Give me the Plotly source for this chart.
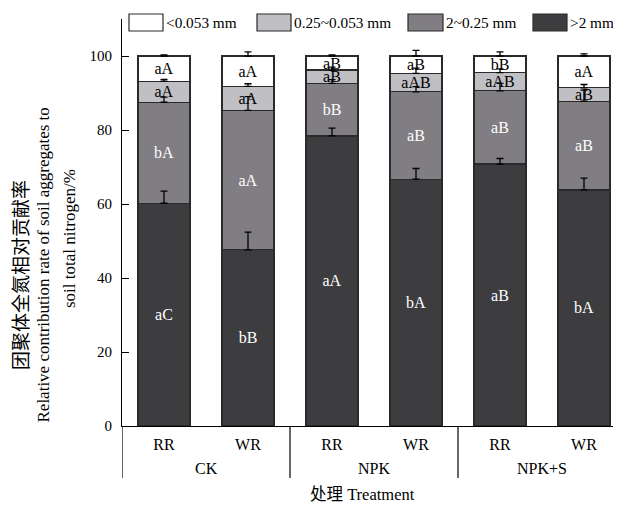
import plotly.graph_objects as go

# ---------------- data ----------------
groups = ["CK", "CK", "NPK", "NPK", "NPK+S", "NPK+S"]
rotations = ["RR", "WR", "RR", "WR", "RR", "WR"]
group_names = ["CK", "NPK", "NPK+S"]

size_names = ["<0.053 mm", "0.25~0.053 mm", "2~0.25 mm", ">2 mm"]

# stacked segments (bottom -> top)
gt2 = [60.2, 47.6, 78.4, 66.7, 70.8, 63.8]
mid = [27.3, 37.7, 14.2, 23.6, 19.8, 24.0]
small = [5.7, 6.5, 3.6, 5.0, 4.9, 3.6]
lt0053 = [6.8, 8.2, 3.8, 4.7, 4.5, 8.6]

err_gt2 = [3.3, 4.8, 2.1, 2.9, 1.5, 3.2]
err_mid = [1.4, 3.7, 1.0, 1.4, 2.0, 3.0]
err_small = [0.5, 0.7, 0.8, 1.4, 1.0, 0.9]
err_lt0053 = [0.3, 1.1, 0.3, 1.5, 1.1, 0.6]

lab_gt2 = ["aC", "bB", "aA", "bA", "aB", "bA"]
lab_mid = ["bA", "aA", "bB", "aB", "aB", "aB"]
lab_small = ["aA", "aA", "aB", "aAB", "aAB", "aB"]
lab_lt0053 = ["aA", "aA", "aB", "aB", "bB", "aA"]

y_ticks = [0, 20, 40, 60, 80, 100]

# ---------------- style ----------------
OFF = 8  # page body margin of the browser
W, H = 621 - OFF, 505 - OFF
# plot area in screenshot pixels
PX0, PX1, PY0, PY1 = 122, 621, 19, 426
L, R, T, B = PX0 - OFF, 621 - PX1, PY0 - OFF, 505 - PY1
FONT = "Liberation Serif, Times New Roman, Noto Sans CJK SC, serif"
colors = {">2 mm": "#3d3d3f", "2~0.25 mm": "#807e82",
          "0.25~0.053 mm": "#c0bfc3", "<0.053 mm": "#ffffff"}
text_colors = {">2 mm": "white", "2~0.25 mm": "white",
               "0.25~0.053 mm": "black", "<0.053 mm": "black"}

pw = PX1 - PX0
ph = PY1 - PY0


def px(xp):
    return (xp - PX0) / pw


def py(yp):
    return (PY1 - yp) / ph


xpos = list(range(len(rotations)))
fig = go.Figure()

series = [
    (">2 mm", gt2, err_gt2, lab_gt2),
    ("2~0.25 mm", mid, err_mid, lab_mid),
    ("0.25~0.053 mm", small, err_small, lab_small),
    ("<0.053 mm", lt0053, err_lt0053, lab_lt0053),
]
for name, vals, errs, labs in series:
    fig.add_trace(go.Bar(
        x=xpos, y=vals, name=name,
        customdata=groups,
        marker=dict(color=colors[name], line=dict(color="#2a2a2a", width=1.2)),
        width=0.62,
        text=labs, textposition="inside", insidetextanchor="middle",
        textangle=0, constraintext="none",
        textfont=dict(family=FONT, size=16, color=text_colors[name]),
        showlegend=False,
    ))

# error bars drawn above all segments, at each segment's stacked top
cum = [0.0] * len(rotations)
for name, vals, errs, labs in series:
    cum = [c + v for c, v in zip(cum, vals)]
    fig.add_trace(go.Scatter(
        x=xpos, y=list(cum), mode="markers",
        marker=dict(size=1, color="rgba(0,0,0,0)"),
        error_y=dict(type="data", array=errs, arrayminus=[0] * len(errs),
                     symmetric=False, color="black", thickness=1.3, width=3.5),
        showlegend=False, hoverinfo="skip",
    ))

fig.update_layout(
    width=W, height=H,
    margin=dict(l=L, r=R, t=T, b=B),
    barmode="stack",
    plot_bgcolor="white", paper_bgcolor="white",
    font=dict(family=FONT, size=15, color="black"),
    uniformtext=dict(minsize=16, mode="show"),
    xaxis=dict(
        range=[-0.5, -0.5 + pw / 84.0], automargin=False,
        tickvals=xpos, ticktext=rotations,
        showline=True, linecolor="black", linewidth=1.2,
        ticks="", showgrid=False, zeroline=False,
        tickfont=dict(family=FONT, size=16),
        ticklabelstandoff=4,
    ),
    yaxis=dict(
        range=[0, 110], automargin=False,
        tickvals=y_ticks,
        showline=True, linecolor="black", linewidth=1.2,
        ticks="inside", ticklen=7, tickcolor="black",
        showgrid=False, zeroline=False,
        tickfont=dict(family=FONT, size=15),
        ticklabelstandoff=6,
    ),
)

# group labels and dividers under the axis
for gi, g in enumerate(group_names):
    idx = [i for i, gg in enumerate(groups) if gg == g]
    fig.add_annotation(text=g, xref="x", yref="paper",
                       x=sum(idx) / len(idx), y=py(468),
                       xanchor="center", yanchor="middle", showarrow=False,
                       font=dict(family=FONT, size=16))
    fig.add_shape(type="line", xref="x", yref="paper",
                  x0=min(idx) - 0.5, x1=min(idx) - 0.5, y0=0, y1=py(478),
                  line=dict(color="black", width=1.2))

# x-axis title
fig.add_annotation(text="处理 Treatment", xref="paper", yref="paper",
                   x=px(362), y=py(494), xanchor="center", yanchor="middle",
                   showarrow=False, font=dict(family=FONT, size=16.5))

# y-axis title (three lines)
ytitle = [
    ("团聚体全氮相对贡献率", 21, 275, 19),
    ("Relative contribution rate of soil aggregates to", 42.5, 265, 17),
    ("soil total nitrogen/%", 69, 239, 17),
]
for txt, xx, yy, fs in ytitle:
    fig.add_annotation(text=txt, xref="paper", yref="paper", x=px(xx), y=py(yy),
                       xanchor="center", yanchor="middle", textangle=-90,
                       showarrow=False, font=dict(family=FONT, size=fs))

# legend drawn manually
leg_boxes = [(129, 163), (257, 291), (408, 443), (533, 567)]
for name, (x0, x1) in zip(size_names, leg_boxes):
    fig.add_shape(type="rect", xref="paper", yref="paper",
                  x0=px(x0), x1=px(x1), y0=py(31), y1=py(14),
                  fillcolor=colors[name], line=dict(color="#2a2a2a", width=1.2))
    fig.add_annotation(text=name, xref="paper", yref="paper",
                       x=px(x1 + 1), y=py(22.5), xanchor="left", yanchor="middle",
                       showarrow=False, font=dict(family=FONT, size=15.3))

fig.write_html("out.html")
